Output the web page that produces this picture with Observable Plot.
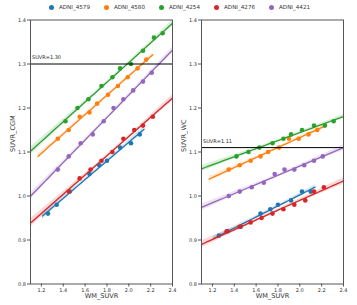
<!DOCTYPE html>
<html>
<head>
<meta charset="utf-8">
<script src="https://cdn.jsdelivr.net/npm/d3@7"></script>
<script src="https://cdn.jsdelivr.net/npm/@observablehq/plot@0.6"></script>
<style>
  body { margin: 0; background: #fff; font-family: "DejaVu Sans", sans-serif; }
  #wrap { position: relative; width: 357px; height: 305px; overflow: hidden; }
  #legend { position: absolute; left: 0; top: 0; width: 357px; height: 14px;
            display: flex; justify-content: center; align-items: center; gap: 14px;
            font-size: 5.6px; color: #333; padding-left: 2px; box-sizing: border-box; }
  #legend .item { display: flex; align-items: center; gap: 5px; }
  #legend .sw { width: 5px; height: 5px; border-radius: 50%; }
  .panel { position: absolute; top: 14px; }
</style>
</head>
<body>
<div id="wrap">
  <div id="legend"></div>
  <div id="p1" class="panel" style="left:0px"></div>
  <div id="p2" class="panel" style="left:171px"></div>
</div>
<script>
// Subjects and their palette
const subjects = ["ADNI_4579", "ADNI_4580", "ADNI_4254", "ADNI_4276", "ADNI_4421"];
const colors = ["#1f77b4", "#ff7f0e", "#2ca02c", "#d62728", "#9467bd"];

// White-matter reference SUVR (x) per subject
const wm_4579 = [1.26, 1.34, 1.46, 1.64, 1.73, 1.80, 1.92, 2.02, 2.10];
const wm_4580 = [1.35, 1.45, 1.55, 1.64, 1.71, 1.81, 1.90, 1.99, 2.08, 2.16];
const wm_4254 = [1.42, 1.53, 1.63, 1.75, 1.85, 1.92, 2.02, 2.13, 2.23, 2.31];
const wm_4276 = [1.33, 1.45, 1.55, 1.65, 1.75, 1.85, 1.95, 2.05, 2.13, 2.22];
const wm_4421 = [1.35, 1.45, 1.56, 1.67, 1.77, 1.86, 1.95, 2.04, 2.13, 2.21];

// SUVR with cerebellar grey matter reference (null = not available)
const cgm_4579 = [0.96, 0.98, 1.01, 1.05, 1.07, 1.08, 1.11, 1.12, 1.14];
const cgm_4580 = [1.13, 1.15, 1.18, 1.19, 1.21, 1.23, 1.25, 1.27, 1.29, 1.31];
const cgm_4254 = [1.17, 1.20, 1.22, 1.25, 1.27, 1.29, 1.30, 1.33, 1.36, 1.37];
const cgm_4276 = [null, 1.01, 1.04, 1.06, 1.08, 1.10, 1.13, 1.15, 1.16, 1.18];
const cgm_4421 = [1.06, 1.09, 1.12, 1.14, 1.17, 1.20, 1.22, 1.24, 1.26, 1.28];

// SUVR with whole cerebellum reference
const wc_4579 = [0.91, 0.92, 0.93, 0.96, 0.97, 0.98, 0.99, 1.01, 1.01];
const wc_4580 = [1.06, 1.07, 1.08, 1.09, 1.10, 1.11, 1.13, 1.13, 1.14, 1.15];
const wc_4254 = [1.09, 1.10, 1.11, 1.12, 1.13, 1.14, 1.15, 1.16, 1.16, 1.17];
const wc_4276 = [0.92, 0.93, 0.94, 0.95, 0.96, 0.97, 0.98, 0.99, 1.01, 1.02];
const wc_4421 = [1.00, 1.01, 1.02, 1.03, 1.05, 1.06, 1.06, 1.07, 1.08, 1.09];

// x-span covered by each subject's regression line
const fitFrom = [1.21, 1.17, 1.1, 1.1, 1.1];
const fitTo   = [2.14, 2.22, 2.4, 2.4, 2.4];

// Positivity thresholds
const thrCGM = 1.30;
const thrWC = 1.11;

const xTicks = [1.2, 1.4, 1.6, 1.8, 2.0, 2.2, 2.4];
const yTicks = [0.8, 0.9, 1.0, 1.1, 1.2, 1.3, 1.4];

const wm = [wm_4579, wm_4580, wm_4254, wm_4276, wm_4421];
const cgm = [cgm_4579, cgm_4580, cgm_4254, cgm_4276, cgm_4421];
const wc = [wc_4579, wc_4580, wc_4254, wc_4276, wc_4421];

// Ordinary least squares fit with a 95% confidence band
function regression(pts, x0, x1, series) {
  const xs = pts.map(p => p.x), ys = pts.map(p => p.y);
  const n = xs.length;
  const mx = d3.mean(xs), my = d3.mean(ys);
  const sxx = d3.sum(xs, x => (x - mx) ** 2);
  const sxy = d3.sum(xs, (x, i) => (x - mx) * (ys[i] - my));
  const b = sxy / sxx, a = my - b * mx;
  const s2 = d3.sum(xs, (x, i) => (ys[i] - a - b * x) ** 2) / (n - 2);
  const t = 2.3;
  return d3.range(41).map(k => {
    const x = x0 + (x1 - x0) * k / 40;
    const yhat = a + b * x;
    const se = Math.sqrt(s2 * (1 / n + (x - mx) ** 2 / sxx));
    return {series, x, yhat, lo: yhat - t * se, hi: yhat + t * se};
  });
}

function panel(ys, threshold, yLabel) {
  const marks = [];
  subjects.forEach((s, i) => {
    const pts = wm[i].map((x, j) => ({series: s, x, y: ys[i][j]})).filter(p => p.y != null);
    const fit = regression(pts, fitFrom[i], fitTo[i], s);
    marks.push(
      Plot.dot(pts, {x: "x", y: "y", fill: "series", r: 2.3}),
      Plot.areaY(fit, {x: "x", y1: "lo", y2: "hi", fill: "series", fillOpacity: 0.18}),
      Plot.line(fit, {x: "x", y: "yhat", stroke: "series", strokeWidth: 1.3})
    );
  });
  return Plot.plot({
    width: 178,
    height: 291,
    marginLeft: 30,
    marginRight: 6,
    marginTop: 5.5,
    marginBottom: 21.5,
    style: {fontFamily: "DejaVu Sans, sans-serif", fontSize: "5px", color: "#333", background: "transparent", overflow: "visible"},
    x: {domain: [1.1, 2.4]},
    y: {domain: [0.8, 1.4]},
    color: {domain: subjects, range: colors},
    marks: [
      ...marks,
      Plot.ruleY([threshold], {stroke: "#000", strokeWidth: 1}),
      Plot.text([threshold], {y: d => d, frameAnchor: "left", dx: 1.5, dy: -6.5, textAnchor: "start",
        text: d => `SUVR=${d.toFixed(2)}`, fontSize: 5, fill: "#222"}),
      Plot.frame({stroke: "#555", strokeWidth: 1}),
      Plot.axisX({ticks: xTicks, tickFormat: d3.format(".1f"), tickSize: 3, tickPadding: 1.5,
        fontSize: 5, label: null, stroke: "#555"}),
      Plot.axisY({ticks: yTicks, tickFormat: d3.format(".1f"), tickSize: 3, tickPadding: 1.5,
        fontSize: 5, label: null, stroke: "#555"}),
      Plot.text(["WM_SUVR"], {frameAnchor: "bottom", dy: 14, text: d => d, fontSize: 6.6, fill: "#333"}),
      Plot.text([yLabel], {frameAnchor: "left", dx: -18, rotate: -90, text: d => d, fontSize: 6.6, fill: "#333"})
    ]
  });
}

document.getElementById("p1").appendChild(panel(cgm, thrCGM, "SUVR_CGM"));
document.getElementById("p2").appendChild(panel(wc, thrWC, "SUVR_WC"));

// Legend across the top
const legend = document.getElementById("legend");
subjects.forEach((s, i) => {
  const item = document.createElement("div");
  item.className = "item";
  const sw = document.createElement("span");
  sw.className = "sw";
  sw.style.background = colors[i];
  const lab = document.createElement("span");
  lab.textContent = s;
  item.append(sw, lab);
  legend.appendChild(item);
});
</script>
</body>
</html>
